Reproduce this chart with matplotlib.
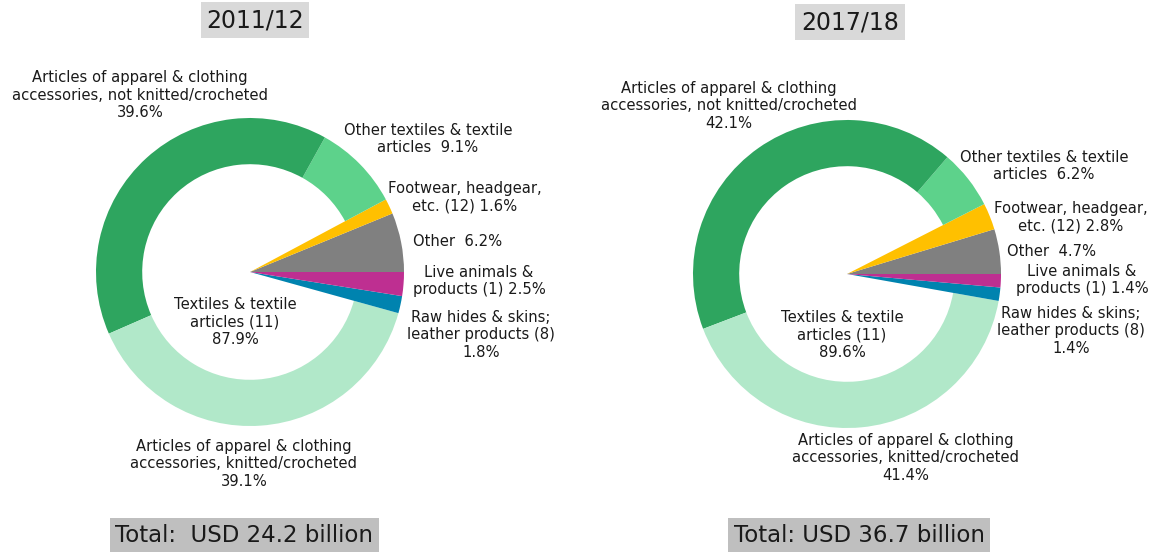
import matplotlib.pyplot as plt

categories = ["Other", "Footwear, headgear, etc. (12)", "Other textiles & textile articles",
              "Articles of apparel, not knitted/crocheted", "Articles of apparel, knitted/crocheted",
              "Raw hides & skins; leather products (8)", "Live animals & products (1)"]
colors = ["#808080", "#FFC000", "#5DD28B", "#2EA55F", "#B1E8C9", "#0083AF", "#BE2F91"]
is_textile = [False, False, True, True, True, False, False]

shares_2011 = [6.2, 1.6, 9.1, 39.6, 39.1, 1.8, 2.5]
shares_2017 = [4.7, 2.8, 6.2, 42.1, 41.4, 1.4, 1.4]
textiles_2011 = 87.9
textiles_2017 = 89.6
total_2011 = 24.2
total_2017 = 36.7

W, H = 1159, 554
fig = plt.figure(figsize=(W / 100, H / 100), dpi=100)
ax = fig.add_axes([0, 0, 1, 1])

R = 154
lab = dict(fontsize=10.6, ha="center", va="center", linespacing=1.2, color="#1a1a1a")


def donut(cx, cy, shares):
    wedges, _ = ax.pie(shares, colors=colors, startangle=0, counterclock=True,
                       center=(cx, H - cy), radius=R, wedgeprops=dict(linewidth=0))
    for w, t in zip(wedges, is_textile):
        if t:
            w.set_width(R * 0.3)


def txt(x, y, s, **kw):
    d = dict(lab)
    d.update(kw)
    ax.text(x, H - y, s, **d)


# 2011/12
donut(250, 272, shares_2011)
txt(255, 20, "2011/12", fontsize=17, bbox=dict(facecolor="#D9D9D9", edgecolor="none", pad=4))
txt(140, 95, "Articles of apparel & clothing\naccessories, not knitted/crocheted\n%.1f%%" % shares_2011[3])
txt(428, 139, "Other textiles & textile\narticles  %.1f%%" % shares_2011[2])
txt(465, 197, "Footwear, headgear,\netc. (12) %.1f%%" % shares_2011[1])
txt(458, 242, "Other  %.1f%%" % shares_2011[0])
txt(479, 281, "Live animals &\nproducts (1) %.1f%%" % shares_2011[6])
txt(481, 335, "Raw hides & skins;\nleather products (8)\n%.1f%%" % shares_2011[5])
txt(235, 322, "Textiles & textile\narticles (11)\n%.1f%%" % textiles_2011)
txt(244, 464, "Articles of apparel & clothing\naccessories, knitted/crocheted\n%.1f%%" % shares_2011[4])
txt(244, 535, "Total:  USD %.1f billion" % total_2011, fontsize=16.5,
    bbox=dict(facecolor="#BFBFBF", edgecolor="none", pad=4))

# 2017/18
donut(847, 274, shares_2017)
txt(850, 22, "2017/18", fontsize=17, bbox=dict(facecolor="#D9D9D9", edgecolor="none", pad=4))
txt(729, 106, "Articles of apparel & clothing\naccessories, not knitted/crocheted\n%.1f%%" % shares_2017[3])
txt(1044, 166, "Other textiles & textile\narticles  %.1f%%" % shares_2017[2])
txt(1071, 217, "Footwear, headgear,\netc. (12) %.1f%%" % shares_2017[1])
txt(1052, 252, "Other  %.1f%%" % shares_2017[0])
txt(1082, 280, "Live animals &\nproducts (1) %.1f%%" % shares_2017[6])
txt(1071, 331, "Raw hides & skins;\nleather products (8)\n%.1f%%" % shares_2017[5])
txt(842, 335, "Textiles & textile\narticles (11)\n%.1f%%" % textiles_2017)
txt(906, 458, "Articles of apparel & clothing\naccessories, knitted/crocheted\n%.1f%%" % shares_2017[4])
txt(859, 535, "Total: USD %.1f billion" % total_2017, fontsize=16.5,
    bbox=dict(facecolor="#BFBFBF", edgecolor="none", pad=4))

ax.set_xlim(0, W)
ax.set_ylim(0, H)
ax.set_aspect("auto")
ax.axis("off")

fig.savefig("out.png", dpi=100)
